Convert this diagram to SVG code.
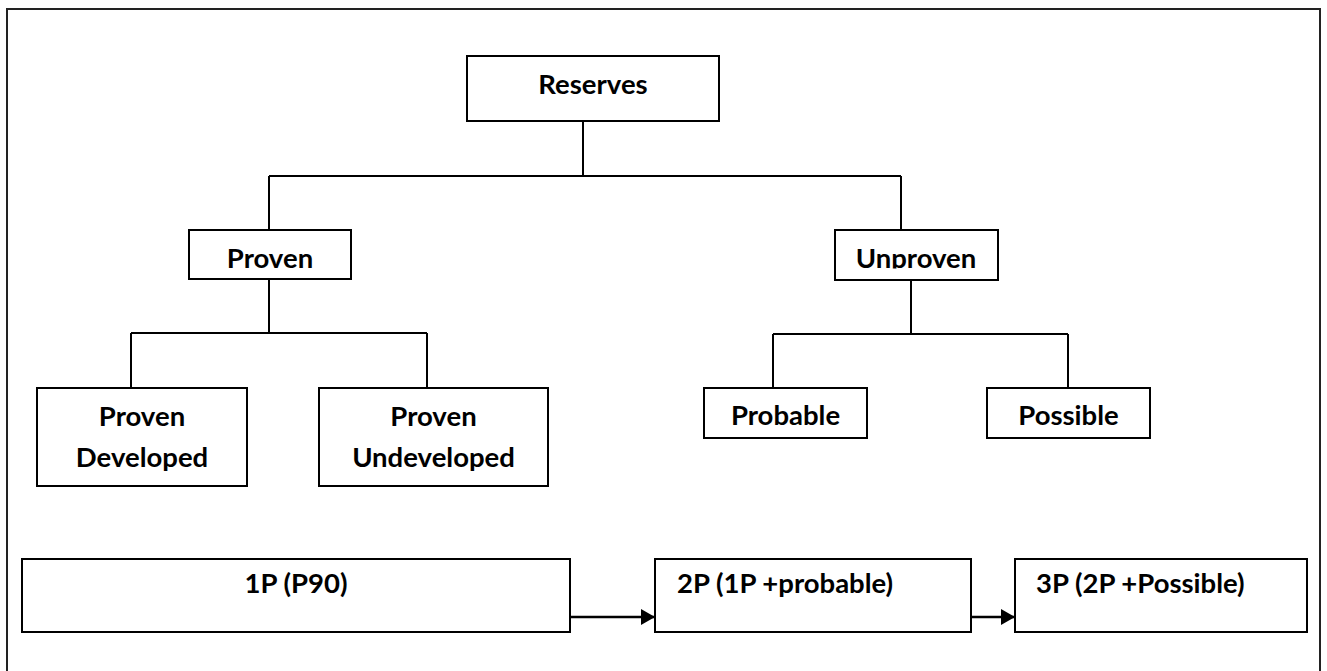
<svg xmlns="http://www.w3.org/2000/svg" width="1327" height="671" viewBox="0 0 1327 671">
<style>
.box{fill:#fff;stroke:#000;stroke-width:2}
.ln{fill:none;stroke:#000;stroke-width:2}
.ar{fill:none;stroke:#000;stroke-width:2.5}
.t{font-family:Lato,"Open Sans","Liberation Sans",sans-serif;font-weight:bold;font-size:27.5px;fill:#000}
.c{text-anchor:middle}
</style>
<defs>
<marker id="ah" viewBox="0 0 14 16" refX="14" refY="8" markerWidth="14" markerHeight="16" markerUnits="userSpaceOnUse" orient="auto">
<path d="M0,0 L14,8 L0,16 z" fill="#000"/>
</marker>
<clipPath id="clipU"><rect x="835" y="230" width="163" height="38.5"/></clipPath>
</defs>
<rect x="0" y="0" width="1327" height="671" fill="#fff"/>
<rect x="7" y="9" width="1313" height="700" fill="none" stroke="#222" stroke-width="2"/>
<g id="connectors">
<path class="ln" d="M583,121 V176 M269,176 H901 M269,176 V230 M901,176 V230"/>
<path class="ln" d="M269,279 V333 M131,333 H427 M131,333 V388 M427,333 V388"/>
<path class="ln" d="M911,280 V334 M773,334 H1068 M773,334 V388 M1068,334 V388"/>
<path class="ar" d="M570,617 H655" marker-end="url(#ah)"/>
<path class="ar" d="M971,617 H1015" marker-end="url(#ah)"/>
</g>
<g id="reserves"><rect class="box" x="467" y="56" width="252" height="65"/><text class="t c" x="593" y="94">Reserves</text></g>
<g id="proven"><rect class="box" x="189" y="230" width="162" height="49"/><text class="t c" x="270" y="268">Proven</text></g>
<g id="unproven"><rect class="box" x="835" y="230" width="163" height="50"/><text class="t c" x="916" y="268" clip-path="url(#clipU)">Unproven</text></g>
<g id="proven-developed"><rect class="box" x="37" y="388" width="210" height="98"/><text class="t c" x="142" y="426">Proven</text><text class="t c" x="142" y="467">Developed</text></g>
<g id="proven-undeveloped"><rect class="box" x="319" y="388" width="229" height="98"/><text class="t c" x="433.5" y="426">Proven</text><text class="t c" x="433.5" y="467">Undeveloped</text></g>
<g id="probable"><rect class="box" x="704" y="388" width="163" height="50"/><text class="t c" x="785.5" y="425">Probable</text></g>
<g id="possible"><rect class="box" x="987" y="388" width="163" height="50"/><text class="t c" x="1068.5" y="425">Possible</text></g>
<g id="p1"><rect class="box" x="22" y="559" width="548" height="73"/><text class="t c" x="296" y="593">1P (P90)</text></g>
<g id="p2"><rect class="box" x="655" y="559" width="316" height="73"/><text class="t" x="677" y="593">2P (1P +probable)</text></g>
<g id="p3"><rect class="box" x="1015" y="559" width="292" height="73"/><text class="t" x="1036" y="593">3P (2P +Possible)</text></g>
</svg>
